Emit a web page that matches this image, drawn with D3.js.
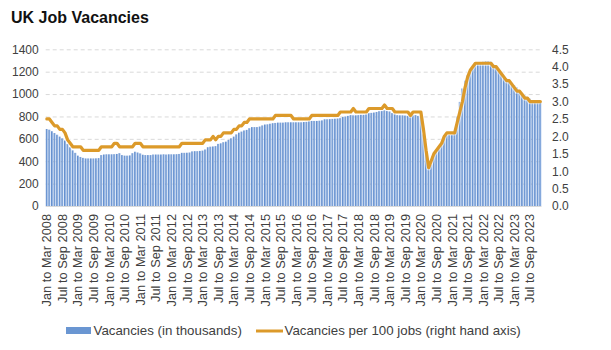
<!DOCTYPE html>
<html>
<head>
<meta charset="utf-8">
<script src="https://cdn.jsdelivr.net/npm/d3@7"></script>
<style>
  html, body { margin: 0; padding: 0; background: #fff; }
  svg { display: block; font-family: "Liberation Sans", Arial, sans-serif; }
</style>
</head>
<body>
<svg id="chart" width="611" height="350"></svg>
<script>
// ---- Data ----
const monthNames = ["Jan","Feb","Mar","Apr","May","Jun","Jul","Aug","Sep","Oct","Nov","Dec"];
const startYear = 2008;

// Vacancies (thousands), rolling three-month periods starting Jan-Mar 2008
const vacancies2008 = [688, 682, 668, 652, 637, 620, 605, 585, 555, 525, 497, 475];
const vacancies2009 = [450, 438, 430, 425, 425, 425, 425, 426, 428, 455, 460, 462];
const vacancies2010 = [462, 462, 463, 465, 472, 455, 450, 450, 452, 472, 485, 478];
const vacancies2011 = [470, 458, 455, 455, 455, 460, 460, 460, 460, 462, 460, 462];
const vacancies2012 = [462, 462, 463, 465, 475, 475, 476, 478, 488, 490, 490, 492];
const vacancies2013 = [495, 505, 525, 530, 532, 535, 555, 560, 570, 575, 590, 605];
const vacancies2014 = [620, 640, 655, 665, 675, 680, 695, 705, 705, 705, 710, 720];
const vacancies2015 = [728, 730, 735, 740, 742, 745, 745, 745, 748, 748, 748, 748];
const vacancies2016 = [748, 748, 748, 750, 752, 758, 760, 760, 760, 762, 765, 775];
const vacancies2017 = [775, 776, 778, 780, 782, 785, 795, 800, 805, 812, 810, 810];
const vacancies2018 = [812, 815, 815, 820, 830, 832, 835, 840, 848, 850, 855, 850];
const vacancies2019 = [845, 830, 820, 812, 810, 810, 808, 805, 808, 810, 812, 805];
const vacancies2020 = [796, 640, 480, 330, 370, 450, 500, 530, 560, 620, 633, 635];
const vacancies2021 = [635, 650, 800, 930, 1050, 1120, 1170, 1220, 1250, 1265, 1280, 1287];
const vacancies2022 = [1290, 1295, 1295, 1290, 1265, 1255, 1225, 1190, 1160, 1140, 1125, 1100];
const vacancies2023 = [1080, 1060, 1035, 1010, 990, 975, 960, 945, 935, 930, 930];

// Vacancies per 100 jobs (right hand axis)
const ratio2008 = [2.5, 2.5, 2.4, 2.3, 2.3, 2.2, 2.2, 2.1, 1.9, 1.8, 1.7, 1.7];
const ratio2009 = [1.7, 1.7, 1.6, 1.6, 1.6, 1.6, 1.6, 1.6, 1.6, 1.7, 1.7, 1.7];
const ratio2010 = [1.7, 1.7, 1.8, 1.8, 1.7, 1.7, 1.7, 1.7, 1.7, 1.7, 1.8, 1.8];
const ratio2011 = [1.8, 1.7, 1.7, 1.7, 1.7, 1.7, 1.7, 1.7, 1.7, 1.7, 1.7, 1.7];
const ratio2012 = [1.7, 1.7, 1.7, 1.7, 1.8, 1.8, 1.8, 1.8, 1.8, 1.8, 1.8, 1.8];
const ratio2013 = [1.8, 1.9, 1.9, 1.9, 2.0, 1.9, 2.0, 2.0, 2.1, 2.1, 2.1, 2.1];
const ratio2014 = [2.2, 2.2, 2.3, 2.3, 2.4, 2.4, 2.5, 2.5, 2.5, 2.5, 2.5, 2.5];
const ratio2015 = [2.5, 2.5, 2.5, 2.5, 2.6, 2.6, 2.6, 2.6, 2.6, 2.6, 2.6, 2.5];
const ratio2016 = [2.5, 2.5, 2.5, 2.5, 2.5, 2.5, 2.6, 2.6, 2.6, 2.6, 2.6, 2.6];
const ratio2017 = [2.6, 2.6, 2.6, 2.6, 2.6, 2.7, 2.7, 2.7, 2.7, 2.7, 2.8, 2.7];
const ratio2018 = [2.7, 2.7, 2.7, 2.7, 2.8, 2.8, 2.8, 2.8, 2.8, 2.8, 2.9, 2.8];
const ratio2019 = [2.8, 2.8, 2.7, 2.7, 2.7, 2.7, 2.7, 2.7, 2.6, 2.7, 2.7, 2.7];
const ratio2020 = [2.7, 2.2, 1.6, 1.1, 1.3, 1.5, 1.6, 1.7, 1.8, 2.0, 2.1, 2.1];
const ratio2021 = [2.1, 2.1, 2.4, 2.7, 3.0, 3.4, 3.7, 3.9, 4.0, 4.1, 4.1, 4.1];
const ratio2022 = [4.1, 4.1, 4.1, 4.1, 4.0, 4.0, 3.9, 3.8, 3.7, 3.6, 3.6, 3.5];
const ratio2023 = [3.4, 3.3, 3.3, 3.2, 3.1, 3.1, 3.0, 3.0, 3.0, 3.0, 3.0];

const tickLabels = [
  "Jan to Mar 2008","Jul to Sep 2008","Jan to Mar 2009","Jul to Sep 2009",
  "Jan to Mar 2010","Jul to Sep 2010","Jan to Mar 2011","Jul to Sep 2011",
  "Jan to Mar 2012","Jul to Sep 2012","Jan to Mar 2013","Jul to Sep 2013",
  "Jan to Mar 2014","Jul to Sep 2014","Jan to Mar 2015","Jul to Sep 2015",
  "Jan to Mar 2016","Jul to Sep 2016","Jan to Mar 2017","Jul to Sep 2017",
  "Jan to Mar 2018","Jul to Sep 2018","Jan to Mar 2019","Jul to Sep 2019",
  "Jan to Mar 2020","Jul to Sep 2020","Jan to Mar 2021","Jul to Sep 2021",
  "Jan to Mar 2022","Jul to Sep 2022","Jan to Mar 2023","Jul to Sep 2023"
];
const leftTicks = [0, 200, 400, 600, 800, 1000, 1200, 1400];
const rightTicks = [0, 0.5, 1, 1.5, 2, 2.5, 3, 3.5, 4, 4.5];
const seriesNames = ["Vacancies (in thousands)", "Vacancies per 100 jobs (right hand axis)"];

// ---- Build table ----
const vacancies = [].concat(vacancies2008, vacancies2009, vacancies2010, vacancies2011,
  vacancies2012, vacancies2013, vacancies2014, vacancies2015, vacancies2016, vacancies2017,
  vacancies2018, vacancies2019, vacancies2020, vacancies2021, vacancies2022, vacancies2023);
const ratio = [].concat(ratio2008, ratio2009, ratio2010, ratio2011, ratio2012, ratio2013,
  ratio2014, ratio2015, ratio2016, ratio2017, ratio2018, ratio2019, ratio2020, ratio2021,
  ratio2022, ratio2023);
const categories = vacancies.map((_, i) => {
  const m0 = i % 12;
  const m2 = (i + 2) % 12, y2 = startYear + Math.floor((i + 2) / 12);
  return monthNames[m0] + " to " + monthNames[m2] + " " + y2;
});
const rows = categories.map((c, i) => ({ cat: c, v: vacancies[i], r: ratio[i] }));

// ---- Layout ----
const svg = d3.select("#chart");
const plotLeft = 45.7, plotRight = 541.5, plotTop = 49.3, plotBottom = 206;

const x = d3.scaleBand().domain(categories).range([plotLeft, plotRight]).paddingInner(0.22).paddingOuter(0.05);
const yL = d3.scaleLinear().domain([0, 1400]).range([plotBottom, plotTop]);
const yR = d3.scaleLinear().domain([0, 4.5]).range([plotBottom, plotTop]);

// gradient for bars
const defs = svg.append("defs");
const grad = defs.append("linearGradient").attr("id", "barGrad")
  .attr("x1", "0").attr("x2", "1").attr("y1", "0").attr("y2", "0");
grad.append("stop").attr("offset", "0%").attr("stop-color", "#4a7cc4");
grad.append("stop").attr("offset", "100%").attr("stop-color", "#b3cbee");

// Title
svg.append("text").attr("x", 11).attr("y", 22.5)
  .attr("font-size", 16).attr("font-weight", "bold").attr("fill", "#111")
  .text("UK Job Vacancies");

// Gridlines
svg.append("g").selectAll("line").data(leftTicks.filter(d => d > 0)).join("line")
  .attr("x1", plotLeft).attr("x2", plotRight)
  .attr("y1", d => yL(d) + 0.5).attr("y2", d => yL(d) + 0.5)
  .attr("stroke", "#d9d9d9").attr("stroke-width", 1).attr("stroke-dasharray", "4,3");

// Bars
svg.append("g").selectAll("rect").data(rows).join("rect")
  .attr("x", d => x(d.cat)).attr("width", x.bandwidth())
  .attr("y", d => yL(d.v)).attr("height", d => yL(0) - yL(d.v))
  .attr("fill", "url(#barGrad)");

// baseline
svg.append("line").attr("x1", plotLeft).attr("x2", plotRight)
  .attr("y1", plotBottom + 0.5).attr("y2", plotBottom + 0.5)
  .attr("stroke", "#d9d9d9").attr("stroke-width", 1);

// Line
const line = d3.line().x(d => x(d.cat) + x.bandwidth() / 2).y(d => yR(d.r));
svg.append("path").datum(rows).attr("d", line)
  .attr("fill", "none").attr("stroke", "#ffffff").attr("stroke-opacity", 0.5)
  .attr("stroke-width", 5.5).attr("stroke-linejoin", "round");
svg.append("path").datum(rows).attr("d", line)
  .attr("fill", "none").attr("stroke", "#dc9a2a").attr("stroke-width", 3.2)
  .attr("stroke-linejoin", "round").attr("stroke-linecap", "round");

// Left axis
const axL = svg.append("g").attr("transform", `translate(${plotLeft},0)`)
  .call(d3.axisLeft(yL).tickValues(leftTicks).tickSize(0).tickPadding(7).tickFormat(d3.format("d")));
axL.select(".domain").remove();
axL.selectAll("text").attr("font-size", 12).attr("fill", "#404040")
  .attr("font-family", "'Liberation Sans', Arial, sans-serif");

// Right axis
const axR = svg.append("g").attr("transform", `translate(${plotRight},0)`)
  .call(d3.axisRight(yR).tickValues(rightTicks).tickSize(0).tickPadding(10.5).tickFormat(d3.format(".1f")));
axR.select(".domain").remove();
axR.selectAll("text").attr("font-size", 12).attr("fill", "#404040")
  .attr("font-family", "'Liberation Sans', Arial, sans-serif");

// Bottom axis
const axB = svg.append("g").attr("transform", `translate(0,${plotBottom})`)
  .call(d3.axisBottom(x).tickValues(tickLabels).tickSize(0));
axB.select(".domain").remove();
axB.selectAll("text")
  .attr("font-size", 12.8).attr("fill", "#404040")
  .attr("font-family", "'Liberation Sans', Arial, sans-serif")
  .attr("transform", "rotate(-90)")
  .attr("text-anchor", "end")
  .attr("x", -8).attr("y", 0).attr("dy", "0.35em");

// Legend
const lg = svg.append("g");
lg.append("rect").attr("x", 66).attr("y", 327).attr("width", 25).attr("height", 7).attr("fill", "#6a96d2");
lg.append("text").attr("x", 93.5).attr("y", 335).attr("font-size", 13.3).attr("fill", "#404040").text(seriesNames[0]);
lg.append("line").attr("x1", 256).attr("x2", 283).attr("y1", 331).attr("y2", 331)
  .attr("stroke", "#dc9a2a").attr("stroke-width", 3);
lg.append("text").attr("x", 284.5).attr("y", 335).attr("font-size", 13.3).attr("fill", "#404040").text(seriesNames[1]);
</script>
</body>
</html>
